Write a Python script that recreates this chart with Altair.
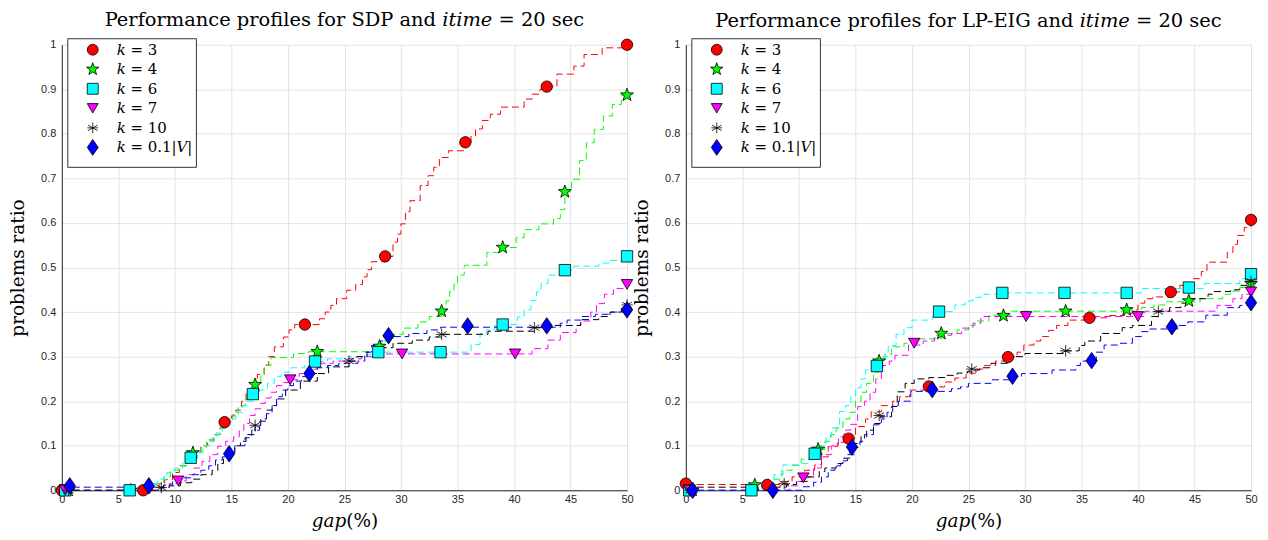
import altair as alt
import pandas as pd

LABELS = ["𝑘 = 3", "𝑘 = 4", "𝑘 = 6", "𝑘 = 7", "𝑘 = 10", "𝑘 = 0.1|𝑉|"]
COLORS = ["#ff0000", "#00ff00", "#00ffff", "#ff00ff", "#000000", "#0000ff"]
SHAPES = [
    "circle",
    "M0,-1.2L0.29,-0.39L1.14,-0.37L0.46,0.15L0.71,0.97L0,0.49L-0.71,0.97L-0.46,0.15L-1.14,-0.37L-0.29,-0.39Z",
    "square",
    "triangle-down",
    "M0,-1L0,1M-0.87,-0.5L0.87,0.5M-0.87,0.5L0.87,-0.5M-1,0L1,0",
    "M0,-1.45L1.0,0L0,1.45L-1.0,0Z",
]
X_TICKS = [0, 5, 10, 15, 20, 25, 30, 35, 40, 45, 50]
Y_TICKS = [0, 0.1, 0.2, 0.3, 0.4, 0.5, 0.6, 0.7, 0.8, 0.9, 1.0]

TITLE_SDP = "Performance profiles for SDP and 𝑖𝑡𝑖𝑚𝑒 = 20 sec"
TITLE_LP = "Performance profiles for LP-EIG and 𝑖𝑡𝑖𝑚𝑒 = 20 sec"

SDP_K3_X = [0, 7.3, 8.0, 8.6, 9.1, 9.8, 10.4, 11.0, 11.6, 12.3, 12.9, 13.4, 14.0, 14.5, 15.0, 15.4, 15.9, 16.3, 16.8, 17.3, 17.9, 18.3, 18.8, 19.6, 20.1, 20.6, 22.8, 23.3, 23.8, 24.3, 25.2, 26.0, 26.6, 27.0, 27.4, 28.6, 29.3, 29.7, 30.0, 30.4, 30.8, 31.7, 32.4, 32.9, 33.4, 34.2, 35.7, 36.2, 36.6, 37.2, 37.9, 38.8, 40.9, 41.6, 42.3, 42.9, 43.8, 45.3, 46.2, 47.8, 50]
SDP_K3_Y = [0, 0, 0.007, 0.015, 0.024, 0.04, 0.055, 0.07, 0.085, 0.1, 0.113, 0.125, 0.14, 0.153, 0.167, 0.18, 0.2, 0.218, 0.24, 0.26, 0.281, 0.3, 0.322, 0.344, 0.36, 0.372, 0.385, 0.40, 0.415, 0.43, 0.449, 0.462, 0.479, 0.495, 0.513, 0.525, 0.557, 0.575, 0.598, 0.625, 0.65, 0.684, 0.706, 0.725, 0.747, 0.762, 0.781, 0.795, 0.811, 0.83, 0.844, 0.86, 0.878, 0.889, 0.9, 0.906, 0.934, 0.952, 0.978, 0.993, 1.0]

SDP_K4_X = [0, 6.5, 7.5, 8.3, 9.0, 9.6, 10.3, 11.0, 11.6, 12.3, 12.8, 13.5, 14.0, 14.6, 15.1, 15.6, 16.2, 16.8, 17.1, 17.6, 17.9, 18.5, 20.5, 21.8, 27.8, 28.3, 29.3, 30.2, 31.5, 32.5, 33.6, 34.0, 34.3, 34.7, 35.0, 35.6, 37.6, 39.0, 40.2, 40.9, 42.2, 43.5, 44.1, 44.5, 45.1, 45.8, 46.4, 47.1, 47.9, 48.7, 49.5, 50]
SDP_K4_Y = [0, 0, 0.007, 0.015, 0.03, 0.045, 0.055, 0.07, 0.084, 0.095, 0.11, 0.125, 0.14, 0.155, 0.17, 0.19, 0.205, 0.225, 0.237, 0.26, 0.28, 0.298, 0.307, 0.311, 0.32, 0.335, 0.35, 0.364, 0.378, 0.39, 0.402, 0.425, 0.446, 0.465, 0.483, 0.505, 0.534, 0.545, 0.567, 0.585, 0.598, 0.61, 0.63, 0.67, 0.698, 0.74, 0.78, 0.81, 0.84, 0.866, 0.887, 0.887]

SDP_K6_X = [0, 6.5, 7.0, 7.8, 8.5, 9.3, 10.0, 10.7, 11.4, 12.0, 12.5, 13.1, 13.7, 14.2, 14.8, 15.4, 16.0, 16.4, 16.9, 17.5, 18.2, 18.8, 19.4, 20.3, 21.5, 22.4, 23.5, 25.5, 27.0, 28.0, 35.8, 36.2, 37.0, 37.6, 38.3, 39.6, 40.3, 40.9, 41.5, 42.0, 42.4, 43.0, 44.5, 45.3, 47.5, 48.5, 49.8, 50]
SDP_K6_Y = [0, 0, 0.007, 0.015, 0.025, 0.04, 0.05, 0.062, 0.073, 0.085, 0.1, 0.115, 0.13, 0.145, 0.16, 0.175, 0.19, 0.2, 0.216, 0.225, 0.24, 0.255, 0.265, 0.275, 0.28, 0.289, 0.295, 0.30, 0.305, 0.31, 0.31, 0.327, 0.352, 0.36, 0.37, 0.372, 0.389, 0.405, 0.426, 0.445, 0.464, 0.483, 0.494, 0.503, 0.51, 0.516, 0.525, 0.525]

SDP_K7_X = [0, 8.0, 8.8, 9.5, 10.3, 11.0, 11.7, 12.4, 13.1, 13.8, 14.5, 15.2, 15.7, 16.1, 16.6, 17.1, 17.6, 18.0, 18.5, 19.0, 19.6, 20.2, 21.0, 21.8, 22.6, 24.0, 25.3, 26.5, 27.5, 41.0, 41.6, 43.0, 44.1, 45.5, 45.9, 46.8, 47.3, 48.0, 48.8, 50]
SDP_K7_Y = [0, 0, 0.007, 0.015, 0.021, 0.035, 0.05, 0.065, 0.08, 0.099, 0.11, 0.12, 0.135, 0.15, 0.168, 0.183, 0.195, 0.207, 0.22, 0.235, 0.242, 0.248, 0.262, 0.272, 0.285, 0.29, 0.295, 0.30, 0.306, 0.306, 0.318, 0.337, 0.354, 0.37, 0.38, 0.40, 0.419, 0.44, 0.453, 0.462]

SDP_K10_X = [0, 8.0, 8.8, 9.5, 10.5, 11.5, 12.3, 13.3, 13.8, 14.3, 14.8, 15.3, 15.8, 16.3, 17.1, 17.6, 18.1, 18.6, 19.0, 19.8, 21.1, 22.6, 23.6, 25.4, 26.1, 27.0, 28.0, 29.3, 31.0, 32.5, 33.6, 37.7, 41.8, 43.5, 45.9, 47.5, 48.5, 49.5, 50]
SDP_K10_Y = [0, 0, 0.006, 0.01, 0.017, 0.025, 0.035, 0.045, 0.06, 0.07, 0.085, 0.1, 0.11, 0.125, 0.146, 0.16, 0.18, 0.19, 0.205, 0.225, 0.245, 0.262, 0.277, 0.29, 0.30, 0.31, 0.32, 0.33, 0.337, 0.344, 0.35, 0.357, 0.365, 0.37, 0.383, 0.39, 0.40, 0.41, 0.416]

SDP_KV_X = [0, 8.3, 9.0, 9.8, 10.5, 11.5, 12.3, 13.0, 13.6, 14.2, 14.8, 15.3, 16.2, 16.8, 17.5, 18.1, 18.6, 19.0, 19.5, 20.0, 20.5, 21.2, 21.9, 22.6, 23.5, 24.5, 26.2, 26.8, 27.4, 28.2, 28.9, 30.7, 32.3, 33.5, 43.5, 44.1, 44.7, 46.0, 47.2, 48.6, 50]
SDP_KV_Y = [0.007, 0.007, 0.012, 0.02, 0.028, 0.035, 0.045, 0.055, 0.068, 0.075, 0.082, 0.1, 0.118, 0.135, 0.155, 0.172, 0.19, 0.21, 0.225, 0.235, 0.245, 0.255, 0.262, 0.275, 0.28, 0.285, 0.29, 0.31, 0.325, 0.335, 0.345, 0.352, 0.36, 0.366, 0.366, 0.375, 0.382, 0.39, 0.395, 0.40, 0.404]

SDP_K3_MX = [0, 7.2, 14.4, 21.5, 28.6, 35.7, 42.9, 50]
SDP_K3_MY = [0, 0, 0.153, 0.372, 0.525, 0.781, 0.906, 1.0]
SDP_K4_MX = [0.6, 6.1, 11.6, 17.1, 22.6, 28.1, 33.6, 39.0, 44.5, 50]
SDP_K4_MY = [0, 0, 0.084, 0.237, 0.311, 0.323, 0.402, 0.545, 0.67, 0.887]
SDP_K6_MX = [0.3, 6.0, 11.4, 16.9, 22.4, 28.0, 33.5, 39.0, 44.5, 50]
SDP_K6_MY = [0, 0, 0.073, 0.216, 0.289, 0.31, 0.31, 0.372, 0.494, 0.525]
SDP_K7_MX = [0.3, 10.3, 20.2, 30.1, 40.1, 50]
SDP_K7_MY = [0, 0.021, 0.248, 0.306, 0.306, 0.462]
SDP_K10_MX = [0.6, 8.8, 17.1, 25.4, 33.6, 41.8, 50]
SDP_K10_MY = [0, 0.006, 0.146, 0.29, 0.35, 0.365, 0.416]
SDP_KV_MX = [0.7, 7.7, 14.8, 21.9, 28.9, 35.9, 42.9, 50]
SDP_KV_MY = [0.01, 0.01, 0.082, 0.262, 0.347, 0.369, 0.369, 0.405]

LP_K3_X = [0, 7.6, 8.3, 9.4, 10.5, 11.4, 12.0, 12.6, 13.4, 14.5, 15.0, 15.9, 16.4, 17.3, 18.3, 18.9, 19.8, 21.5, 22.9, 23.8, 24.8, 25.8, 26.4, 27.4, 28.5, 29.3, 29.9, 30.8, 31.4, 32.1, 32.8, 33.8, 35.7, 37.5, 38.8, 39.5, 40.0, 40.6, 41.3, 42.9, 43.7, 44.9, 45.6, 46.1, 47.9, 48.4, 48.8, 49.4, 50]
LP_K3_Y = [0.013, 0.013, 0.02, 0.03, 0.045, 0.057, 0.075, 0.098, 0.108, 0.117, 0.143, 0.16, 0.176, 0.19, 0.2, 0.21, 0.225, 0.232, 0.243, 0.252, 0.263, 0.272, 0.28, 0.29, 0.299, 0.31, 0.326, 0.335, 0.345, 0.359, 0.37, 0.382, 0.387, 0.392, 0.397, 0.405, 0.42, 0.43, 0.434, 0.445, 0.46, 0.475, 0.491, 0.512, 0.534, 0.552, 0.572, 0.59, 0.607]

LP_K4_X = [0, 6.5, 7.0, 7.8, 8.5, 9.4, 10.2, 11.1, 11.7, 12.3, 12.8, 13.3, 13.9, 14.5, 15.0, 15.5, 16.0, 16.6, 17.1, 17.6, 18.2, 19.3, 20.5, 22.6, 24.0, 25.0, 25.6, 26.8, 28.8, 40.3, 41.4, 42.4, 45.5, 47.5, 48.2, 49.0, 50]
LP_K4_Y = [0, 0, 0.012, 0.025, 0.045, 0.056, 0.07, 0.083, 0.091, 0.11, 0.125, 0.14, 0.16, 0.175, 0.2, 0.22, 0.24, 0.265, 0.285, 0.305, 0.322, 0.33, 0.34, 0.352, 0.36, 0.37, 0.38, 0.393, 0.402, 0.41, 0.416, 0.423, 0.43, 0.44, 0.447, 0.455, 0.464]

LP_K6_X = [0, 6.2, 6.7, 7.2, 7.8, 8.6, 10.2, 10.8, 11.4, 11.9, 12.4, 12.9, 13.6, 14.1, 14.6, 15.0, 15.5, 15.9, 17.0, 17.4, 17.9, 18.6, 19.3, 20.0, 21.8, 22.4, 23.8, 24.7, 25.4, 26.1, 27.5, 40.4, 45.9, 49.0, 50]
LP_K6_Y = [0, 0, 0.012, 0.025, 0.035, 0.057, 0.06, 0.07, 0.081, 0.1, 0.12, 0.14, 0.177, 0.19, 0.21, 0.23, 0.25, 0.27, 0.281, 0.3, 0.325, 0.35, 0.365, 0.382, 0.39, 0.401, 0.416, 0.425, 0.433, 0.44, 0.443, 0.453, 0.464, 0.475, 0.485]

LP_K7_X = [0, 8.5, 9.2, 9.9, 10.6, 11.3, 12.0, 12.9, 13.5, 14.0, 14.6, 15.2, 15.8, 16.3, 16.8, 17.3, 18.0, 18.5, 19.7, 21.0, 22.0, 23.5, 24.4, 25.4, 26.1, 40.6, 47.0, 48.4, 49.2, 50]
LP_K7_Y = [0, 0, 0.01, 0.02, 0.03, 0.05, 0.08, 0.1, 0.12, 0.135, 0.148, 0.188, 0.2, 0.22, 0.25, 0.28, 0.29, 0.303, 0.326, 0.335, 0.348, 0.352, 0.364, 0.375, 0.39, 0.402, 0.415, 0.43, 0.44, 0.445]

LP_K10_X = [0, 8.3, 8.9, 9.8, 10.8, 11.8, 12.3, 13.3, 13.9, 14.5, 15.0, 15.5, 16.0, 16.6, 17.2, 18.2, 18.7, 19.4, 20.2, 21.5, 23.0, 24.0, 24.9, 25.4, 26.0, 27.0, 28.5, 30.0, 33.5, 34.8, 35.3, 36.7, 38.6, 39.5, 41.2, 41.8, 42.8, 43.8, 44.5, 46.2, 46.7, 48.2, 49.0, 50]
LP_K10_Y = [0.007, 0.007, 0.013, 0.02, 0.03, 0.042, 0.05, 0.06, 0.072, 0.09, 0.105, 0.12, 0.135, 0.15, 0.165, 0.188, 0.221, 0.24, 0.25, 0.253, 0.258, 0.263, 0.266, 0.27, 0.275, 0.285, 0.3, 0.307, 0.313, 0.325, 0.335, 0.352, 0.365, 0.37, 0.39, 0.402, 0.41, 0.42, 0.43, 0.44, 0.446, 0.45, 0.46, 0.468]

LP_KV_X = [0, 9.5, 10.3, 11.3, 12.0, 12.6, 13.2, 13.7, 14.3, 14.9, 15.4, 15.8, 16.6, 17.3, 17.8, 18.3, 18.8, 19.9, 23.5, 24.3, 25.0, 27.0, 28.9, 29.7, 32.4, 34.5, 34.9, 36.3, 37.0, 38.3, 39.5, 40.3, 41.0, 43.5, 44.4, 46.0, 47.9, 49.0, 50]
LP_KV_Y = [0, 0, 0.008, 0.018, 0.03, 0.045, 0.055, 0.066, 0.08, 0.096, 0.11, 0.125, 0.147, 0.16, 0.175, 0.19, 0.2, 0.222, 0.228, 0.232, 0.24, 0.248, 0.255, 0.262, 0.27, 0.28, 0.29, 0.31, 0.326, 0.33, 0.345, 0.356, 0.362, 0.37, 0.378, 0.393, 0.41, 0.415, 0.421]

LP_K3_MX = [0, 7.2, 14.4, 21.5, 28.5, 35.7, 42.9, 50]
LP_K3_MY = [0.015, 0.012, 0.116, 0.233, 0.299, 0.387, 0.445, 0.607]
LP_K4_MX = [0.6, 6.1, 11.7, 17.1, 22.6, 28.1, 33.6, 39.0, 44.5, 50]
LP_K4_MY = [0, 0.012, 0.092, 0.29, 0.352, 0.392, 0.402, 0.405, 0.425, 0.464]
LP_K6_MX = [0.3, 5.8, 11.4, 16.9, 22.4, 28.0, 33.5, 39.0, 44.5, 50]
LP_K6_MY = [0, 0, 0.082, 0.279, 0.401, 0.443, 0.443, 0.443, 0.455, 0.485]
LP_K7_MX = [0.3, 10.4, 20.2, 30.1, 40.0, 50]
LP_K7_MY = [0, 0.028, 0.33, 0.39, 0.39, 0.445]
LP_K10_MX = [0.4, 8.7, 17.1, 25.3, 33.6, 41.8, 50]
LP_K10_MY = [0, 0.015, 0.168, 0.272, 0.313, 0.401, 0.469]
LP_KV_MX = [0.6, 7.7, 14.7, 21.8, 28.9, 35.9, 43.0, 50]
LP_KV_MY = [0, 0, 0.097, 0.226, 0.256, 0.291, 0.367, 0.421]

SDP_CURVES = [(SDP_K3_X, SDP_K3_Y), (SDP_K4_X, SDP_K4_Y), (SDP_K6_X, SDP_K6_Y),
              (SDP_K7_X, SDP_K7_Y), (SDP_K10_X, SDP_K10_Y), (SDP_KV_X, SDP_KV_Y)]
SDP_MARKS = [(SDP_K3_MX, SDP_K3_MY), (SDP_K4_MX, SDP_K4_MY), (SDP_K6_MX, SDP_K6_MY),
             (SDP_K7_MX, SDP_K7_MY), (SDP_K10_MX, SDP_K10_MY), (SDP_KV_MX, SDP_KV_MY)]
LP_CURVES = [(LP_K3_X, LP_K3_Y), (LP_K4_X, LP_K4_Y), (LP_K6_X, LP_K6_Y),
             (LP_K7_X, LP_K7_Y), (LP_K10_X, LP_K10_Y), (LP_KV_X, LP_KV_Y)]
LP_MARKS = [(LP_K3_MX, LP_K3_MY), (LP_K4_MX, LP_K4_MY), (LP_K6_MX, LP_K6_MY),
            (LP_K7_MX, LP_K7_MY), (LP_K10_MX, LP_K10_MY), (LP_KV_MX, LP_KV_MY)]


def to_frame(pairs, key):
    rows = []
    for name, (xs, ys) in zip(LABELS, pairs):
        for x, y in zip(xs, ys):
            rows.append({key: name, "gx": x, "ry": y})
    return pd.DataFrame(rows)


SERIF = "DejaVu Serif"
SANS = "Liberation Sans"

# legend box layout (pixels, relative to the plot area's top-left corner)
LEG_LEFT, LEG_RIGHT, LEG_TOP, LEG_BOTTOM = 6, 135, -6, 123
LEG_SYM_X, LEG_TEXT_X, LEG_ROW0, LEG_ROW_STEP = 31, 55, 5, 19.6


def legend_layers():
    one = pd.DataFrame({"series": [LABELS[0]]})
    layers = [
        alt.Chart(one).mark_rect(fill="white", stroke="#333333", strokeWidth=1).encode(
            x=alt.value(LEG_LEFT), x2=alt.value(LEG_RIGHT),
            y=alt.value(LEG_TOP), y2=alt.value(LEG_BOTTOM),
        )
    ]
    for i, name in enumerate(LABELS):
        row = pd.DataFrame({"series": [name]})
        ypix = LEG_ROW0 + LEG_ROW_STEP * i
        layers.append(
            alt.Chart(row).mark_point(
                filled=True, fill=COLORS[i], stroke="black", strokeWidth=0.8,
                size=120, shape=SHAPES[i], opacity=1,
            ).encode(x=alt.value(LEG_SYM_X), y=alt.value(ypix))
        )
        layers.append(
            alt.Chart(row).mark_text(
                font=SERIF, fontSize=15, color="black", align="left", baseline="middle",
            ).encode(x=alt.value(LEG_TEXT_X), y=alt.value(ypix), text="series:N")
        )
    return layers


def panel(title, curves, marks):
    xs = alt.Scale(domain=[0, 50], nice=False)
    ys = alt.Scale(domain=[0, 1], nice=False)
    xax = alt.Axis(values=X_TICKS, title="𝑔𝑎𝑝(%)", format="~g", labelFlush=False)
    yax = alt.Axis(values=Y_TICKS, title="problems ratio", format="~g", labelFlush=False)
    lines = alt.Chart(to_frame(curves, "curve")).mark_line(
        interpolate="step-after", strokeDash=[7, 4], strokeWidth=1
    ).encode(
        x=alt.X("gx:Q", scale=xs, axis=xax),
        y=alt.Y("ry:Q", scale=ys, axis=yax),
        stroke=alt.Stroke("curve:N", scale=alt.Scale(domain=LABELS, range=COLORS), legend=None),
    )
    points = alt.Chart(to_frame(marks, "series")).mark_point(
        filled=True, stroke="black", strokeWidth=0.8, size=130, opacity=1
    ).encode(
        x=alt.X("gx:Q", scale=xs, axis=xax),
        y=alt.Y("ry:Q", scale=ys, axis=yax),
        color=alt.Color("series:N", scale=alt.Scale(domain=LABELS, range=COLORS), legend=None),
        shape=alt.Shape("series:N", scale=alt.Scale(domain=LABELS, range=SHAPES), legend=None),
    )
    return alt.layer(lines, points, *legend_layers()).properties(
        width=567, height=447,
        title=alt.Title(title, font=SERIF, fontSize=19.5, fontWeight="normal", color="black", offset=7),
    )


left = panel(TITLE_SDP, SDP_CURVES, SDP_MARKS)
right = panel(TITLE_LP, LP_CURVES, LP_MARKS)

chart = alt.hconcat(left, right, spacing=59, bounds="flush").resolve_scale(
    color="independent", shape="independent", stroke="independent",
).properties(
    padding={"left": 0, "top": 1, "right": 0, "bottom": 0}
).configure_view(
    stroke=None
).configure_axis(
    domainColor="#262626", domainWidth=1, gridColor="#e3e3e3", gridWidth=1,
    labelFont=SANS, labelFontSize=11, labelColor="#262626", ticks=False,
    titleFont=SERIF, titleFontSize=18.5, titleFontWeight="normal", titleColor="black",
).configure_axisY(titlePadding=13, labelPadding=6).configure_axisX(titlePadding=7, labelPadding=3)

chart.save("out.html", embed_options={"renderer": "svg", "actions": False})
